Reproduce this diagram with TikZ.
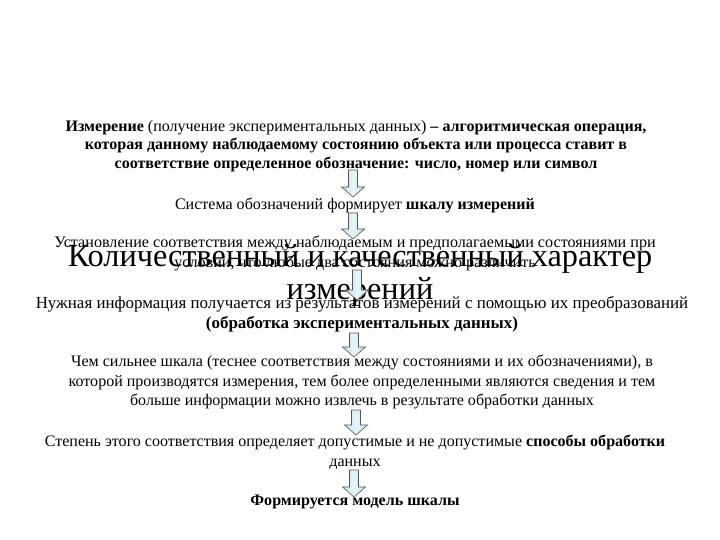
\documentclass[tikz,border=0pt]{standalone}
\usepackage{fontspec}
\setmainfont{Liberation Serif}
\usetikzlibrary{calc}
\definecolor{arrowblue}{RGB}{190,228,236}
\definecolor{arrowedge}{RGB}{85,85,85}

\begin{document}
\begin{tikzpicture}[x=1bp,y=-1bp,
  txt/.style={align=center,inner sep=0pt,font=\fontsize{16.1}{18.6}\selectfont},
  wide txt/.style={txt,font=\fontsize{17}{20}\selectfont},
  small txt/.style={txt,font=\fontsize{16.2}{21}\selectfont},
  loose txt/.style={txt,font=\fontsize{16.1}{20}\selectfont},
  big title/.style={align=center,inner sep=0pt,font=\fontsize{32.4}{33}\selectfont},
  arrow body/.style={draw=arrowedge,line width=0.6pt,left color=arrowblue,right color=arrowblue,middle color=arrowblue!35!white}]
\newcommand{\BlockArrow}[2]{%
  \draw[arrow body] ($(#1)+(-4.5,0)$) -- ($(#1)+(4.5,0)$) -- ($(#2)+(4.5,-10)$) -- ($(#2)+(11.5,-10)$) -- (#2) -- ($(#2)+(-11.5,-10)$) -- ($(#2)+(-4.5,-10)$) -- cycle;%
}
\useasboundingbox[fill=white] (0,0) rectangle (720,540);
% text blocks
\node[txt] (meas) at (356,146) {\textbf{Измерение} (получение экспериментальных данных) \textbf{– алгоритмическая операция,}\\
  \textbf{которая данному наблюдаемому состоянию объекта или процесса ставит в}\\
  \textbf{соответствие определенное обозначение: число, номер или символ}};
\node[txt] (sys) at (355,205) {Система обозначений формирует \textbf{шкалу измерений}};
\node[small txt] (est) at (355,253.5) {Установление соответствия между наблюдаемым и предполагаемыми состояниями при\\
  условии, что любые два состояния можно различить};
\node[wide txt] (info) at (362,314) {Нужная информация получается из результатов измерений с помощью их преобразований\\
  \textbf{(обработка экспериментальных данных)}};
\node[loose txt] (strong) at (362,382) {Чем сильнее шкала (теснее соответствия между состояниями и их обозначениями), в\\
  которой производятся измерения, тем более определенными являются сведения и тем\\
  больше информации можно извлечь в результате обработки данных};
\node[loose txt] (deg) at (355,452.5) {Степень этого соответствия определяет допустимые и не допустимые \textbf{способы обработки}\\
  данных};
\node[txt] (model) at (355,502) {\textbf{Формируется модель шкалы}};
\node[big title] (title) at (360,275) {Количественный и качественный характер\\ измерений}; % overlay
% arrows
\coordinate (a1t) at (353,170); \coordinate (a1b) at (353,197);
\coordinate (a2t) at (353,213); \coordinate (a2b) at (353,239);
\coordinate (a3t) at (357,270); \coordinate (a3b) at (357,300);
\coordinate (a4t) at (354,333); \coordinate (a4b) at (354,357);
\coordinate (a5t) at (356,410); \coordinate (a5b) at (356,435);
\coordinate (a6t) at (354,470); \coordinate (a6b) at (354,497);
\foreach \i in {1,...,6} {\BlockArrow{a\i t}{a\i b}}
\end{tikzpicture}
\end{document}
